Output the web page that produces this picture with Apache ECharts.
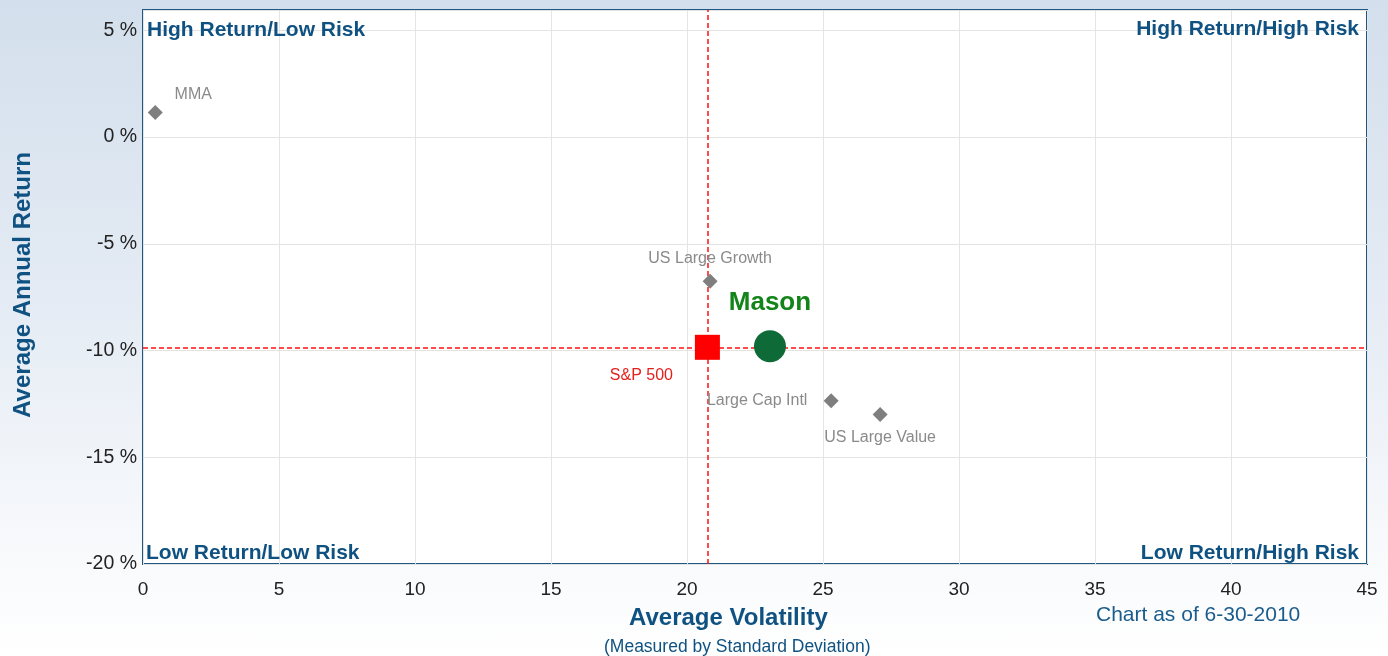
<!DOCTYPE html>
<html>
<head>
<meta charset="utf-8">
<script src="https://cdn.jsdelivr.net/npm/echarts@6/dist/echarts.min.js"></script>
<style>
html,body{margin:0;padding:0;}
#chart{width:1388px;height:656px;background:linear-gradient(180deg,#d3dfec 0%,#e4ebf4 45%,#f6f8fb 80%,#ffffff 100%);}
</style>
</head>
<body>
<div id="chart"></div>
<script>
// Data
const benchmarkNames = ['MMA', 'US Large Growth', 'Large Cap Intl', 'US Large Value'];
const benchmarkVol = [0.45, 20.85, 25.3, 27.1];
const benchmarkRet = [1.15, -6.75, -12.35, -13.0];
const sp500 = { name: 'S&P 500', vol: 20.75, ret: -9.85 };
const mason = { name: 'Mason', vol: 23.05, ret: -9.8 };
const xTicks = [0, 5, 10, 15, 20, 25, 30, 35, 40, 45];
const yTicks = [-20, -15, -10, -5, 0, 5];

const labelOffsets = [[38, -18], [0, -23], [-74, 0], [0, 23]];

const chart = echarts.init(document.getElementById('chart'), null, { renderer: 'canvas' });
const FONT = 'Liberation Sans, Arial, sans-serif';
const BLUE = '#0f5282';

const option = {
  backgroundColor: 'transparent',
  animation: false,
  grid: {
    left: 143, right: 21, top: 10, bottom: 92,
    show: true, backgroundColor: '#ffffff', borderColor: '#1d5784', borderWidth: 2
  },
  xAxis: {
    type: 'value', min: 0, max: 45, interval: 5,
    axisLine: { show: false }, axisTick: { show: false },
    splitLine: { show: true, lineStyle: { color: '#e4e4e4', width: 1 } },
    axisLabel: { color: '#222', fontSize: 19, fontFamily: FONT, margin: 16 }
  },
  yAxis: {
    type: 'value', min: -20, max: 5.95, interval: 5,
    axisLine: { show: false }, axisTick: { show: false },
    splitLine: { show: true, lineStyle: { color: '#e4e4e4', width: 1 } },
    axisLabel: {
      color: '#222', fontSize: 19.5, fontFamily: FONT, margin: 6,
      formatter: v => (yTicks.indexOf(v) >= 0 ? v + ' %' : '')
    }
  },
  series: [
    {
      type: 'scatter',
      symbol: 'diamond', symbolSize: 15,
      itemStyle: { color: '#7f7f7f', opacity: 1 },
      data: benchmarkNames.map((n, i) => ({
        name: n, value: [benchmarkVol[i], benchmarkRet[i]],
        label: { show: true, formatter: n, position: 'inside', offset: labelOffsets[i],
          color: '#8a8a8a', fontSize: 16, fontFamily: FONT }
      })),
      z: 5
    },
    {
      type: 'scatter',
      symbol: 'rect', symbolSize: 25,
      itemStyle: { color: '#ff0000', opacity: 1 },
      data: [{ name: sp500.name, value: [sp500.vol, sp500.ret],
        label: { show: true, formatter: sp500.name, position: 'inside', offset: [-66, 28],
          color: '#e3201c', fontSize: 16, fontFamily: FONT } }],
      markLine: {
        silent: true, symbol: 'none', animation: false,
        lineStyle: { color: '#ff1010', type: [5, 3], width: 1.5 },
        label: { show: false },
        data: [{ xAxis: sp500.vol }, { yAxis: sp500.ret }]
      },
      z: 6
    },
    {
      type: 'scatter',
      symbol: 'circle', symbolSize: 32,
      itemStyle: { color: '#0e6a37', opacity: 1 },
      data: [{ name: mason.name, value: [mason.vol, mason.ret],
        label: { show: true, formatter: mason.name, position: 'inside', offset: [0, -43],
          color: '#12841a', fontSize: 26, fontWeight: 'bold', fontFamily: FONT } }],
      z: 7
    }
  ],
  graphic: [
    { type: 'text', z: 100, left: 147, top: 20, style: { text: 'High Return/Low Risk', fill: BLUE, font: 'bold 21px ' + FONT } },
    { type: 'text', z: 100, right: 29, top: 19, style: { text: 'High Return/High Risk', fill: BLUE, font: 'bold 21px ' + FONT } },
    { type: 'text', z: 100, left: 146, top: 543, style: { text: 'Low Return/Low Risk', fill: BLUE, font: 'bold 21px ' + FONT } },
    { type: 'text', z: 100, right: 29, top: 543, style: { text: 'Low Return/High Risk', fill: BLUE, font: 'bold 21px ' + FONT } },
    { type: 'text', z: 100, left: 629, top: 606, style: { text: 'Average Volatility', fill: BLUE, font: 'bold 24px ' + FONT } },
    { type: 'text', z: 100, left: 604, top: 638, style: { text: '(Measured by Standard Deviation)', fill: BLUE, font: '17.5px ' + FONT } },
    { type: 'text', z: 100, left: 1096, top: 605, style: { text: 'Chart as of 6-30-2010', fill: '#1a5c8c', font: '21px ' + FONT } },
    { type: 'text', z: 100, left: 11, top: 152, rotation: Math.PI / 2, style: { text: 'Average Annual Return', fill: BLUE, font: 'bold 24px ' + FONT } }
  ]
};
chart.setOption(option);
</script>
</body>
</html>
